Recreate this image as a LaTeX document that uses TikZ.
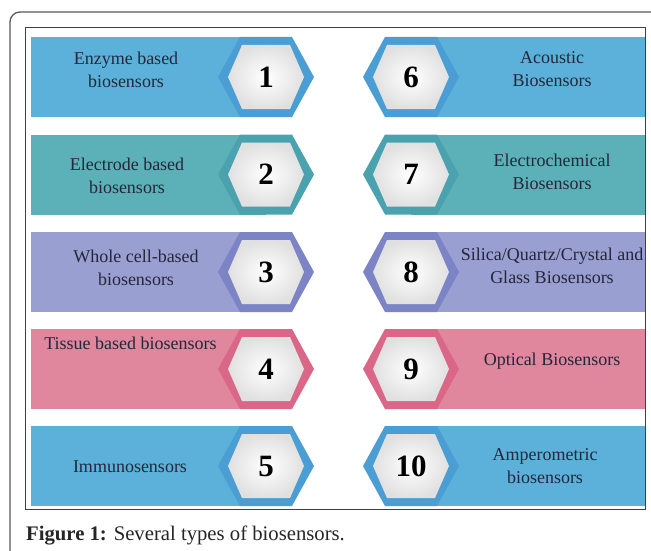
\documentclass[tikz,border=0pt]{standalone}
\usepackage{fontspec}
\setmainfont{Liberation Serif}
\begin{document}
\begin{tikzpicture}[x=1pt,y=-1pt,
  lbl/.style={font=\fontsize{18}{23}\selectfont, text=txt, align=center, inner sep=0pt},
  lbone/.style={font=\fontsize{18}{23}\selectfont, text=txt, inner sep=0pt, anchor=base},
  num/.style={font=\fontsize{31}{31}\selectfont\bfseries, text=black, inner sep=0pt},
  frameline/.style={draw=gray!70!black, line width=1.3pt},
]
\definecolor{txt}{HTML}{26263A}
\definecolor{bBlue}{HTML}{5CB1DA}\definecolor{rBlue}{HTML}{4A9ED3}
\definecolor{bTeal}{HTML}{5CB1B9}\definecolor{rTeal}{HTML}{4AA2AE}
\definecolor{bLav}{HTML}{999FD1}\definecolor{rLav}{HTML}{7D84C6}
\definecolor{bPink}{HTML}{E0869D}\definecolor{rPink}{HTML}{DA6787}
\useasboundingbox (0,0) rectangle (651,551);
\fill[white] (0,0) rectangle (651,551);
% outer frame (partly cropped)
\draw[frameline, rounded corners=10pt] (10,570) -- (10,12) -- (670,12);
% inner frame
\draw[draw=black!75, line width=0.9pt] (25,27) rectangle (645,509);
% hexagon macro
\newcommand{\hexa}[3]{% x, y, ring colour
  \fill[#3] (#1-48,#2) -- (#1-26,#2-40) -- (#1+26,#2-40) -- (#1+48,#2) -- (#1+26,#2+40) -- (#1-26,#2+40) -- cycle;
  \shade[inner color=white, outer color=black!12] (#1-38,#2) -- (#1-24,#2-32) -- (#1+24,#2-32) -- (#1+38,#2) -- (#1+24,#2+32) -- (#1-24,#2+32) -- cycle;
}
\newcommand{\bandrow}[3]{% y, band colour, ring colour
  \fill[#2] (31,#1-40) rectangle (266,#1+40);
  \fill[#2] (411,#1-40) rectangle (645,#1+40);
  \hexa{266}{#1}{#3}
  \hexa{411}{#1}{#3}
}
\bandrow{77}{bBlue}{rBlue}
\bandrow{174.5}{bTeal}{rTeal}
\bandrow{272}{bLav}{rLav}
\bandrow{369}{bPink}{rPink}
\bandrow{466}{bBlue}{rBlue}
% numbers
\node[num] (n1) at (266,77) {1};
\node[num] (n2) at (266,174.5) {2};
\node[num] (n3) at (266,272) {3};
\node[num] (n4) at (266,369) {4};
\node[num] (n5) at (266,466) {5};
\node[num] (n6) at (411,77) {6};
\node[num] (n7) at (411,174.5) {7};
\node[num] (n8) at (411,272) {8};
\node[num] (n9) at (411,369) {9};
\node[num] (n10) at (411,466) {10};
% labels
\node[lbl] (l1) at (126,70) {Enzyme based\\biosensors};
\node[lbl] (l2) at (127,175.5) {Electrode based\\biosensors};
\node[lbl] (l3) at (136,268) {Whole cell-based\\biosensors};
\node[lbone] (l4) at (130.5,349) {Tissue based biosensors};
\node[lbone] (l5) at (130,472) {Immunosensors};
\node[lbl] (l6) at (552,69) {Acoustic\\Biosensors};
\node[lbl] (l7) at (552,172) {Electrochemical\\Biosensors};
\node[lbl] (l8) at (552,265.5) {Silica/Quartz/Crystal and\\Glass Biosensors};
\node[lbone] (l9) at (552,365) {Optical Biosensors};
\node[lbl] (l10) at (545,466) {Amperometric\\biosensors};
% caption
\node[anchor=base west, inner sep=0pt, font=\fontsize{20.7}{24}\selectfont, text=black!85] (cap) at (26,540) {\textbf{Figure 1:} Several types of biosensors.};
\end{tikzpicture}
\end{document}
